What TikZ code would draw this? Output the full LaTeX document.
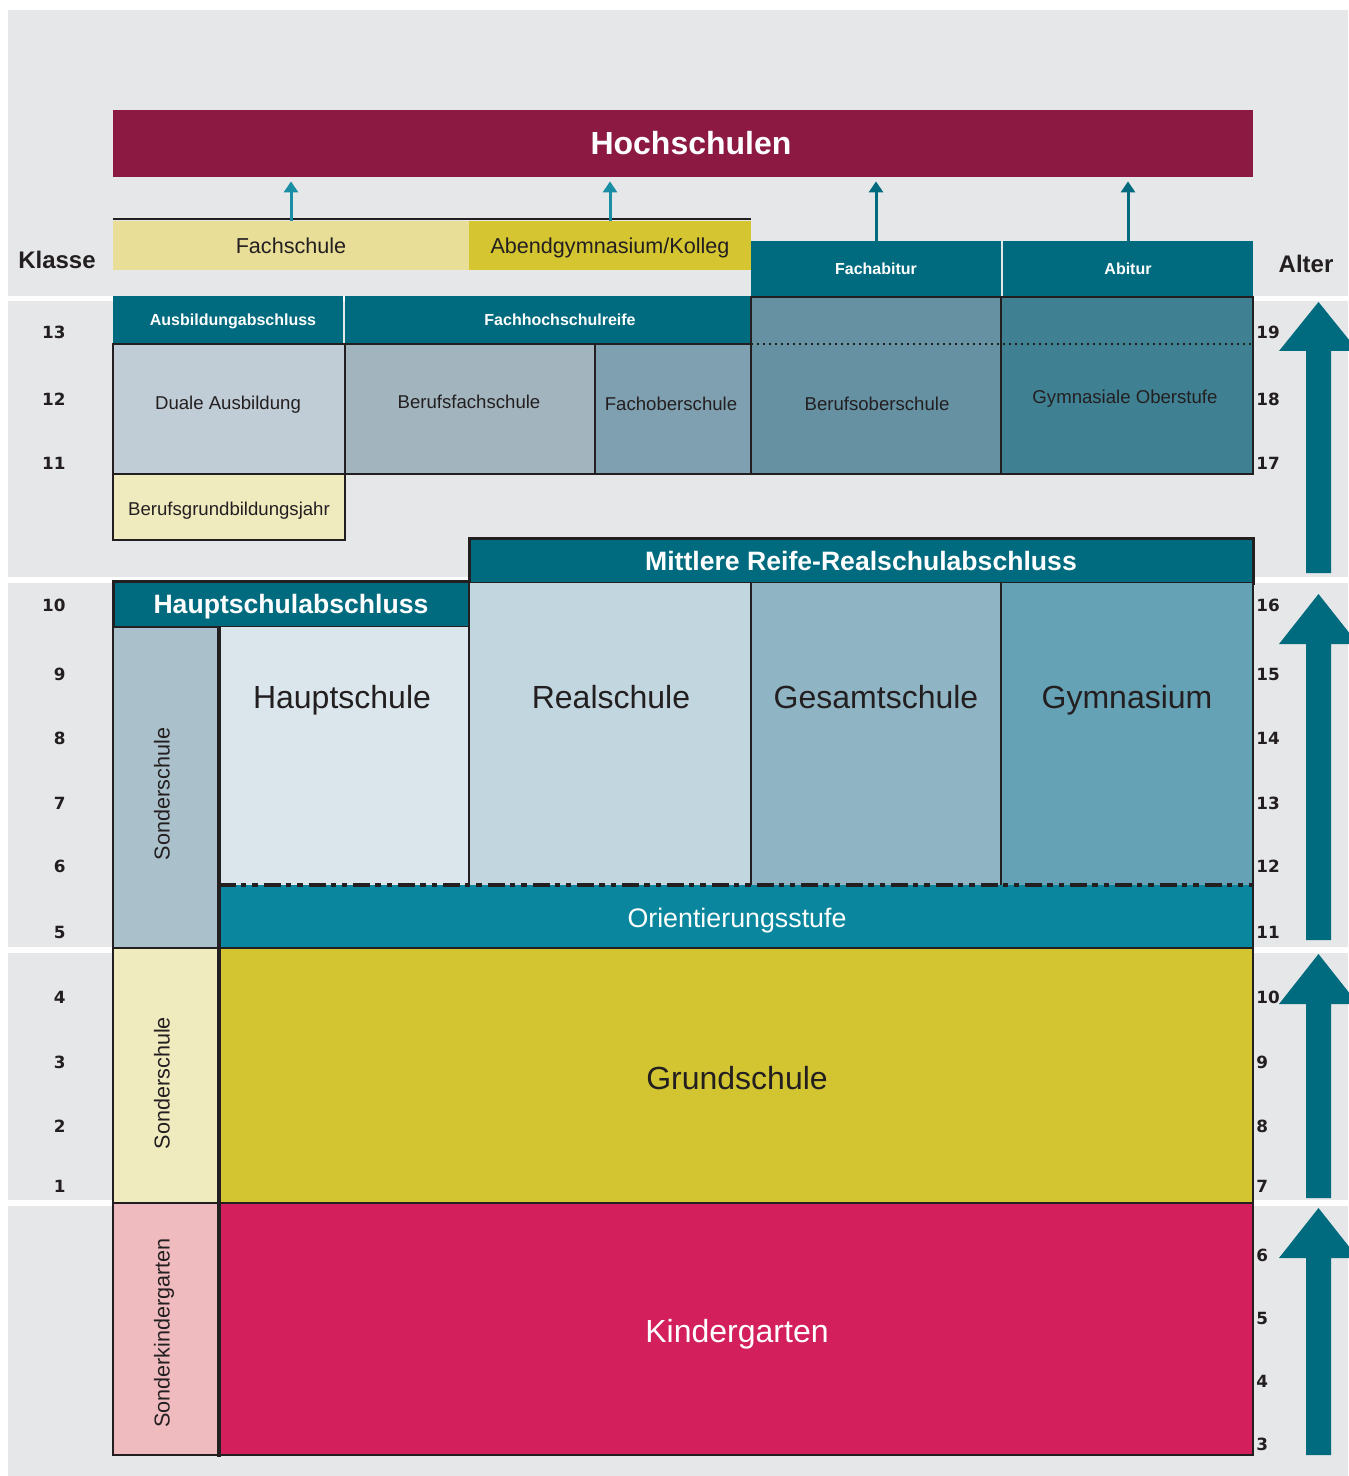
\documentclass[tikz,border=0pt]{standalone}
\usepackage{fontspec}
\setmainfont{Liberation Sans}
\newfontfamily\numfont{DejaVu Sans}
\usetikzlibrary{arrows.meta}

\definecolor{bggrey}{HTML}{E6E7E9}
\definecolor{lineblack}{HTML}{231F20}
\definecolor{abschlussteal}{HTML}{006B7F}
\definecolor{hellteal}{HTML}{1A8EA4}
\definecolor{hochrot}{HTML}{8B1942}
\definecolor{fachgelb}{HTML}{E8DE97}
\definecolor{abendgelb}{HTML}{D4C531}
\definecolor{dualgrau}{HTML}{C1CDD6}
\definecolor{bfsgrau}{HTML}{A2B5BE}
\definecolor{fosblau}{HTML}{7FA0B0}
\definecolor{bosblau}{HTML}{6591A3}
\definecolor{oberstufeblau}{HTML}{3F8093}
\definecolor{bgjgelb}{HTML}{F0EABF}
\definecolor{sonderblau}{HTML}{AAC0CA}
\definecolor{hauptblau}{HTML}{DBE6EC}
\definecolor{realblau}{HTML}{C2D6DF}
\definecolor{gesamtblau}{HTML}{8FB5C5}
\definecolor{gymblau}{HTML}{66A2B5}
\definecolor{orientteal}{HTML}{0A869E}
\definecolor{grundgelb}{HTML}{D3C531}
\definecolor{kigarosa}{HTML}{EFBBBE}
\definecolor{kigarot}{HTML}{D3205C}

\begin{document}
\begin{tikzpicture}[x=0.5pt,y=-0.5pt,
  frame/.style={draw=lineblack,line width=1.1pt},
  abschluss/.style={fill=abschlussteal,text=white,inner sep=0pt,outer sep=0pt,
    text height=5.7pt,text depth=0pt,font=\bfseries\fontsize{8}{9}\selectfont},
  grossabschluss/.style={abschluss,draw=lineblack,line width=1.5pt,
    text height=9.5pt,font=\bfseries\fontsize{13.3}{15}\selectfont},
  zugang/.style={line width=1.5pt,-{Triangle[width=7pt,length=5.5pt]},shorten >=2pt},
  klein/.style={text=lineblack,inner sep=0pt,text height=6.7pt,text depth=0pt,
    font=\fontsize{9.3}{11}\selectfont},
  mittel/.style={text=lineblack,inner sep=0pt,text height=7.7pt,text depth=0pt,
    font=\fontsize{10.8}{12}\selectfont},
  gross/.style={text=lineblack,inner sep=0pt,text height=11.5pt,text depth=0pt,
    font=\fontsize{16}{18}\selectfont},
  kopf/.style={text=lineblack,inner sep=0pt,text height=8.6pt,text depth=0pt,
    font=\bfseries\fontsize{12}{14}\selectfont},
  nummer/.style={text=lineblack,inner sep=0pt,text height=6pt,text depth=0pt,
    font=\numfont\bfseries\fontsize{8.4}{10}\selectfont},
  bigarrow/.style={fill=abschlussteal}]
\useasboundingbox (0,0) rectangle (1348,1476);

% background bands
\fill[bggrey] (8,10) rectangle (1348,296);
\fill[bggrey] (8,301) rectangle (1348,577);
\fill[bggrey] (8,583) rectangle (1348,947);
\fill[bggrey] (8,953) rectangle (1348,1200);
\fill[bggrey] (8,1206) rectangle (1348,1476);

% Hochschulen
\node[fill=hochrot,minimum width=570pt,minimum height=33.5pt,inner sep=0pt,
  text=white,text height=11.5pt,text depth=0pt,
  font=\bfseries\fontsize{16}{18}\selectfont] (hochschulen) at (683,143.5) {\hspace{8pt}Hochschulen};

% Fachschule, Kolleg
\node[mittel,fill=fachgelb,minimum width=178pt,minimum height=24.5pt] (fachschule) at (291,245.5) {Fachschule};
\node[mittel,fill=abendgelb,minimum width=141pt,minimum height=24.5pt] (abendgym) at (610,245.5) {Abendgymnasium/Kolleg};
\draw[lineblack,line width=1pt] ([yshift=0.6pt]fachschule.north west) -- ([yshift=0.6pt]abendgym.north east);

% Fachabitur, Abitur
\node[abschluss,minimum width=125pt,minimum height=28pt] (fachabitur) at (876,269) {Fachabitur};
\node[abschluss,minimum width=125pt,minimum height=28pt] (abitur) at (1128,269) {Abitur};

% Zugaenge zur Hochschule
\draw[zugang,hellteal] (fachschule.north) -- (fachschule.north |- hochschulen.south);
\draw[zugang,hellteal] (abendgym.north) -- (abendgym.north |- hochschulen.south);
\draw[zugang,abschlussteal] (fachabitur.north) -- (fachabitur.north |- hochschulen.south);
\draw[zugang,abschlussteal] (abitur.north) -- (abitur.north |- hochschulen.south);

% Klasse 13
\node[abschluss,minimum width=115pt,minimum height=24pt] (ausbildungabschluss) at (228,320) {\hspace{5pt}Ausbildungabschluss};
\node[abschluss,minimum width=203pt,minimum height=24pt] (fachhochschulreife) at (548,320) {\hspace{12pt}Fachhochschulreife};

% Klasse 11-13
\filldraw[frame,fill=dualgrau] (113,344) rectangle (345,474);
\node[klein] (duale) at (228,403) {Duale Ausbildung};
\filldraw[frame,fill=bfsgrau] (345,344) rectangle (595,474);
\node[klein] (berufsfachschule) at (469,402) {Berufsfachschule};
\filldraw[frame,fill=fosblau] (595,344) rectangle (751,474);
\node[klein] (fachoberschule) at (671,404) {Fachoberschule};
\filldraw[frame,fill=bosblau] (751,297) rectangle (1001,474);
\node[klein] (berufsoberschule) at (877,404) {Berufsoberschule};
\filldraw[frame,fill=oberstufeblau] (1001,297) rectangle (1253,474);
\node[klein] (oberstufe) at (1125,397) {Gymnasiale Oberstufe};
\draw[lineblack,line width=1pt,dash pattern=on 1pt off 2pt] (751,344) -- (1253,344);
\filldraw[frame,fill=bgjgelb] (113,474) rectangle (345,540);
\node[klein] (bgj) at (229,509) {Berufsgrundbildungsjahr};

% Abschluesse Sekundarstufe I
\node[grossabschluss,minimum width=392pt,minimum height=22.5pt] (mittlerereife) at (861,560.5) {Mittlere Reife-Realschulabschluss};
\node[grossabschluss,minimum width=178pt,minimum height=23pt] (hauptschulabschluss) at (291,604) {Hauptschulabschluss};

% Klasse 5-10
\filldraw[frame,fill=sonderblau] (113,627) rectangle (219,948);
\node[mittel,rotate=90] (sonderschule1) at (162,794) {Sonderschule};
\fill[hauptblau] (219,627) rectangle (469,885);
\fill[realblau] (469,583) rectangle (751,885);
\fill[gesamtblau] (751,583) rectangle (1001,885);
\fill[gymblau] (1001,583) rectangle (1253,885);
\fill[orientteal] (219,885) rectangle (1253,948);
\draw[frame] (469,583) -- (469,885) (751,583) -- (751,885) (1001,583) -- (1001,885) (1253,583) -- (1253,948);
\draw[lineblack,line width=1.6pt,dash pattern=on 8.5pt off 2.5pt on 2.7pt off 3pt on 2.7pt off 3pt] (219,885) -- (1253,885);
\node[gross] (hauptschule) at (342,697) {Hauptschule};
\node[gross] (realschule) at (611,697) {Realschule};
\node[gross] (gesamtschule) at (876,697) {Gesamtschule};
\node[gross] (gymnasium) at (1127,697) {Gymnasium};
\node[inner sep=0pt,text=white,text height=9.6pt,text depth=0pt,
  font=\fontsize{13.4}{15}\selectfont] (orientierung) at (737,918) {Orientierungsstufe};

% Klasse 1-4
\filldraw[frame,fill=bgjgelb] (113,948) rectangle (219,1203);
\node[mittel,rotate=90] (sonderschule2) at (162,1083) {Sonderschule};
\filldraw[frame,fill=grundgelb] (219,948) rectangle (1253,1203);
\node[gross] (grundschule) at (737,1078) {Grundschule};

% Kindergarten
\filldraw[frame,fill=kigarosa] (113,1203) rectangle (219,1455);
\node[mittel,rotate=90] (sonderkiga) at (162,1333) {Sonderkindergarten};
\filldraw[frame,fill=kigarot] (219,1203) rectangle (1253,1455);
\node[gross,text=white] (kindergarten) at (737,1331) {Kindergarten};

% Trennlinie Sonderschulen
\draw[lineblack,line width=2pt] (219,627) -- (219,1457);

% Klasse
\node[kopf] (klasse) at (57,260) {Klasse};
\foreach \k/\y in {13/333,12/399,11/463,10/605,9/674,8/738,7/803,6/866,5/932,4/997,3/1062,2/1126,1/1186}
  \node[nummer,anchor=east] (klasse\k) at (66,\y) {\k};

% Alter
\node[kopf] (alter) at (1306,264) {Alter};
\foreach \a/\y in {19/333,18/399,17/463,16/605,15/674,14/738,13/803,12/866,11/932,10/997,9/1062,8/1126,7/1186,6/1255,5/1318,4/1381,3/1444}
  \node[nummer,anchor=west] (alter\a) at (1256,\y) {\a};

% Altersstufen-Pfeile
\foreach \tip/\base/\bottom in {302/351/573,594/644/940,954/1004/1198,1208/1258/1455}
  \fill[bigarrow] (1306,\bottom) -- (1306,\base) -- (1279,\base) -- (1318.5,\tip)
    -- (1358,\base) -- (1331,\base) -- (1331,\bottom) -- cycle;

\end{tikzpicture}
\end{document}
